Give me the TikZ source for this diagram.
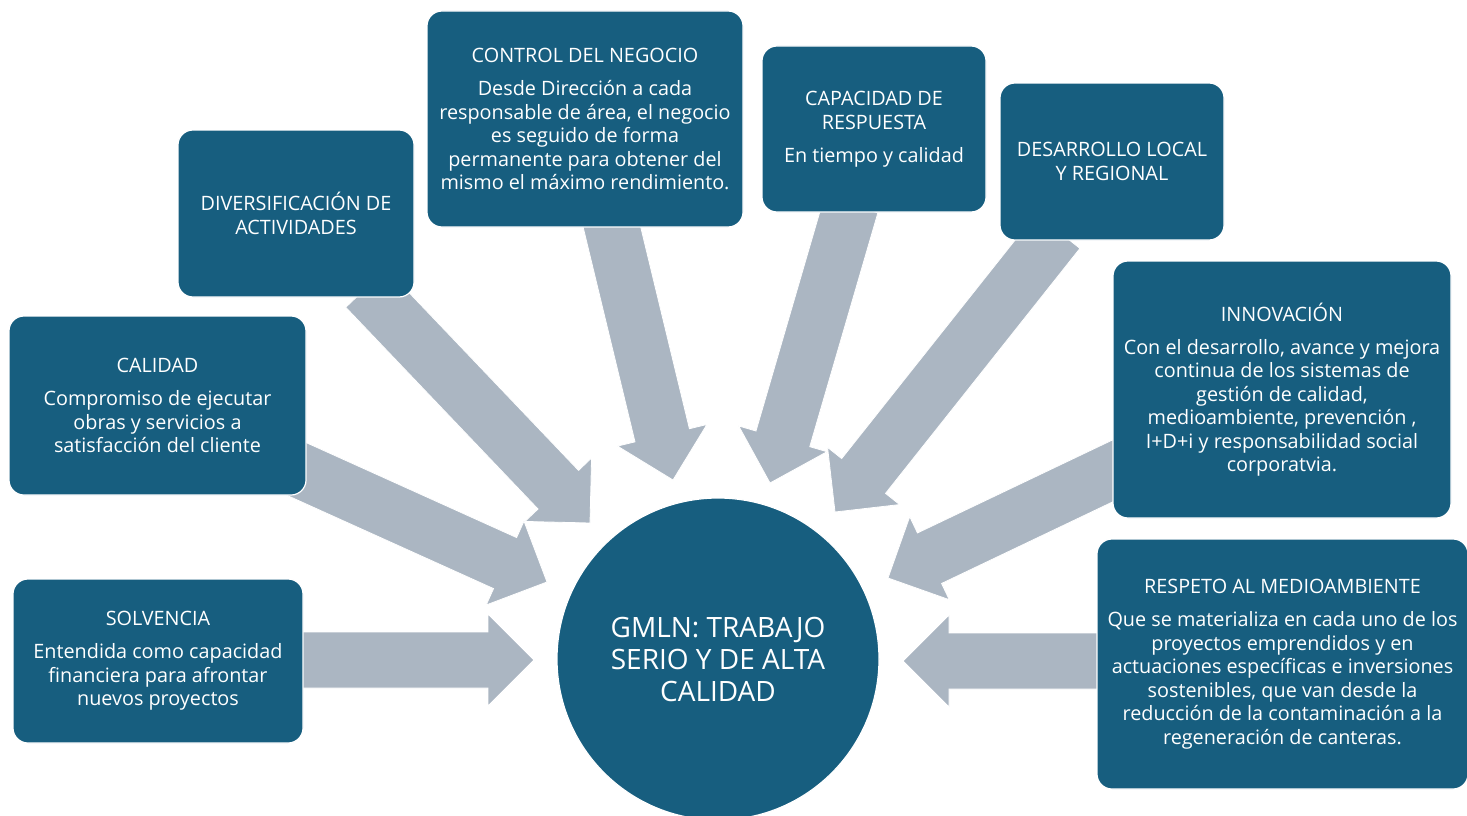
\documentclass[tikz,border=0pt]{standalone}
\usepackage{fontspec}
\setmainfont{Open Sans}
\usetikzlibrary{calc}
\definecolor{boxblue}{RGB}{23,94,127}
\definecolor{flowgray}{RGB}{171,182,194}
% block arrow from a tail coordinate to a tip coordinate
\newcommand{\blockarrow}[2]{%
  \path ($(#2)!46pt!(#1)$) coordinate (neck);
  \filldraw [flow] ($(#1)!28pt!90:(#2)$) -- ($(neck)!28pt!90:(#2)$)
    -- ($(neck)!46pt!90:(#2)$) -- (#2) -- ($(neck)!46pt!-90:(#2)$)
    -- ($(neck)!28pt!-90:(#2)$) -- ($(#1)!28pt!-90:(#2)$) -- cycle;
}

\begin{document}
\begin{tikzpicture}
  [x=1pt, y=-1pt,
   box/.style={rounded corners=15pt, fill=boxblue, draw=white, line width=1.2pt,
     text=white, align=center, inner sep=0pt, font=\fontsize{19.8}{23.5}\selectfont},
   core/.style={circle, fill=boxblue, draw=white, line width=1.2pt, text=white,
     align=center, inner sep=0pt, font=\fontsize{28}{32}\selectfont},
   flow/.style={fill=flowgray, draw=white, line width=0.8pt}]
  \useasboundingbox (0,0) rectangle (1467,816);

  % arrow ends
  \coordinate (solvT) at (295,660);   \coordinate (solvH) at (534,660);
  \coordinate (diverT) at (366,288);  \coordinate (diverH) at (590,523);
  \coordinate (caliT) at (290,466);   \coordinate (caliH) at (547,582);
  \coordinate (ctrlT) at (609,215);   \coordinate (ctrlH) at (673,480);
  \coordinate (capT) at (851,205);    \coordinate (capH) at (770,483);
  \coordinate (desT) at (1058,231);   \coordinate (desH) at (835,512);
  \coordinate (innoT) at (1125,465);  \coordinate (innoH) at (888,578);
  \coordinate (respT) at (1110,661);  \coordinate (respH) at (903,661);

  \foreach \t/\h in {solvT/solvH, diverT/diverH, caliT/caliH, ctrlT/ctrlH,
                     capT/capH, desT/desH, innoT/innoH, respT/respH}
    \blockarrow{\t}{\h};

  \node (ctrl) at (585,119) [box, minimum width=316pt, minimum height=216pt]
    {CONTROL DEL NEGOCIO\\[9.5pt]Desde Dirección a cada\\responsable de área, el negocio\\
     es seguido de forma\\permanente para obtener del\\mismo el máximo rendimiento.};
  \node (diver) at (296,213.5) [box, minimum width=236pt, minimum height=167pt]
    {DIVERSIFICACIÓN DE\\ACTIVIDADES};
  \node (cali) at (157.5,405.5) [box, minimum width=297pt, minimum height=179pt]
    {CALIDAD\\[9.5pt]Compromiso de ejecutar\\obras y servicios a\\satisfacción del cliente};
  \node (solv) at (158,661) [box, minimum width=290pt, minimum height=164pt]
    {SOLVENCIA\\[9.5pt]Entendida como capacidad\\financiera para afrontar\\nuevos proyectos};
  \node (cap) at (874,129) [box, minimum width=224pt, minimum height=166pt]
    {CAPACIDAD DE\\RESPUESTA\\[9.5pt]En tiempo y calidad};
  \node (des) at (1112,161.5) [box, minimum width=224pt, minimum height=157pt]
    {DESARROLLO LOCAL\\Y REGIONAL};
  \node (inno) at (1282,389.5) [box, minimum width=338pt, minimum height=257pt]
    {INNOVACIÓN\\[9.5pt]Con el desarrollo, avance y mejora\\continua de los sistemas de\\
     gestión de calidad,\\medioambiente, prevención ,\\I+D+i y responsabilidad social\\corporatvia.};
  \node (resp) at (1282.5,664) [box, minimum width=371pt, minimum height=250pt]
    {RESPETO AL MEDIOAMBIENTE\\[9.5pt]Que se materializa en cada uno de los\\proyectos emprendidos y en\\
     actuaciones específicas e inversiones\\sostenibles, que van desde la\\
     reducción de la contaminación a la\\regeneración de canteras.};

  \node (gmln) at (718,659) [core, minimum size=322pt]
    {GMLN: TRABAJO\\SERIO Y DE ALTA\\CALIDAD};
\end{tikzpicture}
\end{document}
